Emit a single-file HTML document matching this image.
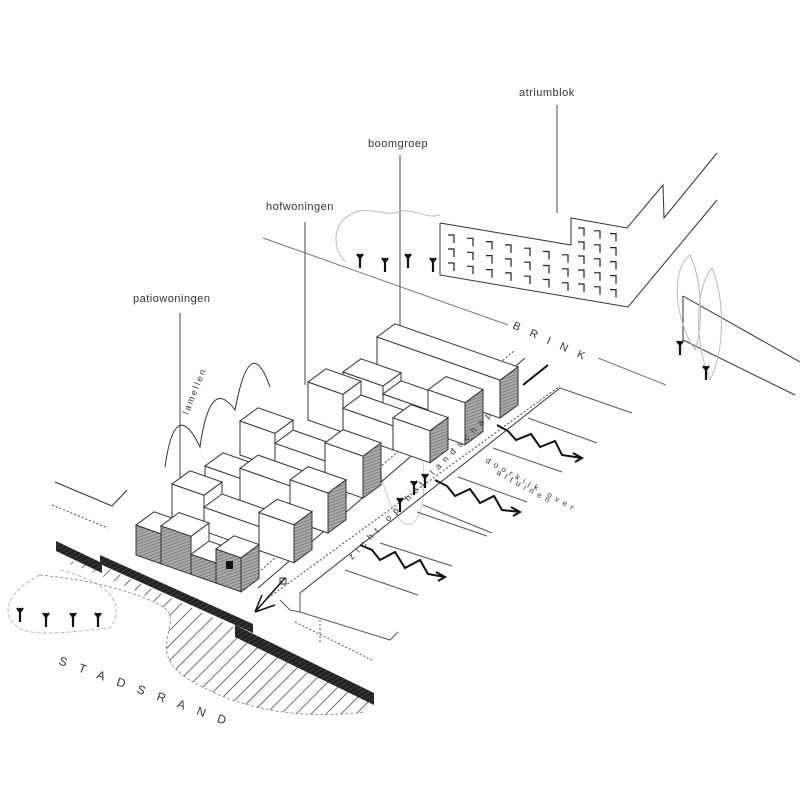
<!DOCTYPE html>
<html><head><meta charset="utf-8"><style>
html,body{margin:0;padding:0;background:#fff;width:800px;height:800px;overflow:hidden}
svg{display:block}
text{font-family:"Liberation Sans","DejaVu Sans",sans-serif;fill:#333}
</style></head><body>
<svg id="s" width="800" height="800" viewBox="0 0 800 800" xmlns="http://www.w3.org/2000/svg">
<defs>
<pattern id="h" width="3" height="3" patternUnits="userSpaceOnUse" patternTransform="rotate(70)">
<rect width="3" height="3" fill="#aaa"/><line x1="0" y1="0" x2="0" y2="3" stroke="#666" stroke-width="1.2"/></pattern>
<pattern id="bar" width="4" height="4" patternUnits="userSpaceOnUse" patternTransform="rotate(60)">
<rect width="4" height="4" fill="#222"/><line x1="0" y1="0" x2="0" y2="4" stroke="#555" stroke-width="1"/></pattern>
<clipPath id="land"><path d="M60,560 C100,575 140,590 160,605 C190,625 140,650 190,680 C240,710 300,720 365,712 L372,700 L235,628 L100,565 Z"/></clipPath>
</defs>
<g fill="none" stroke="#444" stroke-width="1">
<line x1="557" y1="105" x2="557" y2="213"/>
<line x1="400" y1="155" x2="400" y2="392"/>
<line x1="305" y1="222" x2="305" y2="385"/>
<line x1="180" y1="313" x2="180" y2="527"/>
<line x1="263" y1="238" x2="508" y2="325" stroke="#777"/>
<line x1="598" y1="358" x2="666" y2="385" stroke="#777"/>
<path d="M440,223 L571,245 L571,218 L627,228 L663,185 L664,218 L717,153" stroke="#333"/>
<path d="M440,223 L440,275 L628,307 L717,200" stroke="#333"/>
<path d="M683,296 L683,340 L795,395 M683,296 L800,362" stroke="#333"/>
<path d="M345,262 C330,245 335,222 350,215 C365,205 380,215 395,213 C410,205 425,220 440,215" stroke="#bbb"/>
<path d="M695,350 C675,320 670,270 690,255 C700,275 705,320 695,350 M710,380 C690,330 700,280 712,268 C725,300 725,350 710,380" stroke="#bbb"/>
<path d="M40,575 C10,590 0,610 15,625 C30,640 80,630 110,628 C130,600 100,580 60,570" stroke="#bbb" stroke-dasharray="4 2"/>
<path d="M55,482 L112,506 L127,490" stroke="#333"/>
<line x1="52" y1="505" x2="108" y2="528" stroke-dasharray="2 2"/>
<path d="M165,467 Q175,395 200,447 Q210,375 235,410 Q250,330 270,387" stroke="#333"/>
<path d="M380,420 Q395,375 420,400" stroke="#333"/>
<ellipse cx="400" cy="455" rx="22" ry="70" stroke="#ccc" transform="rotate(-8 400 455)"/>
<line x1="258" y1="588" x2="525" y2="358" stroke="#333"/>
<line x1="268" y1="598" x2="560" y2="386" stroke-dasharray="2 2"/>
<line x1="300" y1="593" x2="560" y2="388" stroke="#333"/>
<line x1="252" y1="578" x2="515" y2="350" stroke-dasharray="2 2"/>
<line x1="523" y1="385" x2="548" y2="365" stroke="#111" stroke-width="2"/>
<g stroke="#555">
<line x1="560" y1="388" x2="632" y2="413"/>
<line x1="528" y1="418" x2="597" y2="443"/>
<line x1="493" y1="448" x2="562" y2="472"/>
<line x1="458" y1="477" x2="527" y2="502"/>
<line x1="423" y1="505" x2="492" y2="533"/>
<line x1="417" y1="512" x2="487" y2="536"/>
<line x1="380" y1="543" x2="452" y2="566"/>
<line x1="345" y1="570" x2="418" y2="595"/>
<path d="M300,593 L300,612 L390,640 L398,632"/>
<path d="M280,600 L290,610 L300,612"/>
<line x1="295" y1="622" x2="372" y2="660" stroke-dasharray="2 2"/>
<line x1="320" y1="620" x2="320" y2="642" stroke-dasharray="2 2"/>
</g>
<g stroke="#111" stroke-width="2">
<path d="M360,545 L372,550 L380,560 L395,552 L405,568 L420,560 L428,574 L445,577 M436,572 L445,577 L438,581"/>
<path d="M435,480 L447,486 L455,496 L470,489 L480,503 L494,496 L502,510 L520,512 M511,507 L520,512 L513,516"/>
<path d="M497,425 L508,431 L516,440 L531,434 L540,447 L555,441 L562,455 L582,458 M573,453 L582,458 L575,462"/>
</g>
<path d="M285,578 L255,612 M255,612 L275,605 M255,612 L262,595" stroke="#111" stroke-width="1.5"/>
<rect x="280" y="578" width="6" height="6" stroke="#333"/>
<path d="M40,575 C90,580 130,590 160,605 C190,620 140,650 190,680 C240,710 300,720 365,712" stroke="#999" stroke-dasharray="3 2"/>
<g clip-path="url(#land)" stroke="#555" stroke-width="0.8" id="hatch"></g>
</g>
<polygon points="56,541 102,563 102,573 56,551" fill="url(#bar)"/>
<polygon points="100,555 253,624 253,633 100,564" fill="url(#bar)"/>
<polygon points="235,625 374,693 374,705 235,637" fill="url(#bar)"/>
<g id="bld"></g>
<g id="win" stroke="#222" stroke-width="1.2" fill="none"></g>
<g id="trees" stroke="#111" stroke-width="2.2" fill="none"></g>
<text x="519" y="96" font-size="11" letter-spacing="0.5">atriumblok</text>
<text x="368" y="147" font-size="11" letter-spacing="0.5">boomgroep</text>
<text x="266" y="210" font-size="11" letter-spacing="0.5">hofwoningen</text>
<text x="133" y="302" font-size="11" letter-spacing="0.5">patiowoningen</text>
<text transform="translate(188,415) rotate(-68)" font-size="9" letter-spacing="2">lamellen</text>
<text transform="translate(512,328) rotate(24)" font-size="11" letter-spacing="11">BRINK</text>
<text transform="translate(58,664) rotate(20)" font-size="12" letter-spacing="13">STADSRAND</text>
<text transform="translate(352,560) rotate(-46)" font-size="9" letter-spacing="5.3">zicht op het landschap</text>
<text transform="translate(485,462) rotate(29)" font-size="8" letter-spacing="4.5">doorkijk over</text>
<text transform="translate(496,474) rotate(29)" font-size="8" letter-spacing="4.5">altuinen</text>
</svg>
<script>
var NS="http://www.w3.org/2000/svg";
function el(p,t,a){var e=document.createElementNS(NS,t);for(var k in a)e.setAttribute(k,a[k]);p.appendChild(e);return e;}
var b=document.getElementById('bld');
var A=[1,0.35],C=[0.75,-0.55];
function P(x,y,a,c,h){return [x+A[0]*a+C[0]*c,y+A[1]*a+C[1]*c-h];}
function pts(l){return l.map(function(p){return p[0].toFixed(1)+","+p[1].toFixed(1)}).join(" ");}
function box(x,y,a0,a1,D,H,fr,sd){
 var f=[P(x,y,a0,0,0),P(x,y,a1,0,0),P(x,y,a1,0,H),P(x,y,a0,0,H)];
 var s=[P(x,y,a1,0,0),P(x,y,a1,D,0),P(x,y,a1,D,H),P(x,y,a1,0,H)];
 var t=[P(x,y,a0,0,H),P(x,y,a1,0,H),P(x,y,a1,D,H),P(x,y,a0,D,H)];
 el(b,'polygon',{points:pts(f),fill:fr,stroke:'#333','stroke-width':1});
 el(b,'polygon',{points:pts(s),fill:sd,stroke:'#333','stroke-width':1});
 el(b,'polygon',{points:pts(t),fill:'#fff',stroke:'#333','stroke-width':1});
}
function row(x,y,segs,D,fr){
 var a=0;
 for(var i=0;i<segs.length;i++){var L=segs[i][0],H=segs[i][1];
  box(x,y,a,a+L,D,H,fr,i==segs.length-1?'url(#h)':'#fff');a+=L;}
}
row(377,375,[[123,38]],24,'#fff');
row(343,402,[[40,30],[45,22],[37,42]],24,'#fff');
row(308,420,[[35,38],[50,24],[37,32]],24,'#fff');
row(240,455,[[35,34],[50,24],[38,42]],24,'#fff');
row(205,490,[[35,24],[50,34],[38,40]],24,'#fff');
row(172,520,[[32,36],[55,24],[35,38]],24,'#fff');
row(136,555,[[25,30],[30,38],[25,20],[25,34]],24,'url(#h)');
el(b,'rect',{x:226,y:561,width:7,height:8,fill:'#111'});
var w=document.getElementById('win');
for(var r=0;r<3;r++)for(var c=0;c<7;c++){
 var x=448+c*19, y=235+c*3.3+r*14;
 el(w,'path',{d:"M"+x+","+y+" h6 v8"});
}
for(var r=0;r<5;r++)for(var c=0;c<3;c++){
 var x=578+c*16,y=228+c*2.8+r*14;
 el(w,'path',{d:"M"+x+","+y+" h6 v8"});
}
var tr=document.getElementById('trees');
[[20,622],[46,627],[73,627],[98,627],[360,268],[385,272],[408,268],[433,272],[680,355],[706,380],[400,512],[414,495],[425,488]].forEach(function(p){
 el(tr,'path',{d:"M"+p[0]+","+p[1]+" v-14 M"+p[0]+","+(p[1]-10)+" l-3,-4 M"+p[0]+","+(p[1]-10)+" l3,-4"});
});
var h=document.getElementById('hatch');
for(var i=-200;i<500;i+=15){el(h,'line',{x1:i,y1:760,x2:i+200,y2:560});}
</script>
</body></html>
